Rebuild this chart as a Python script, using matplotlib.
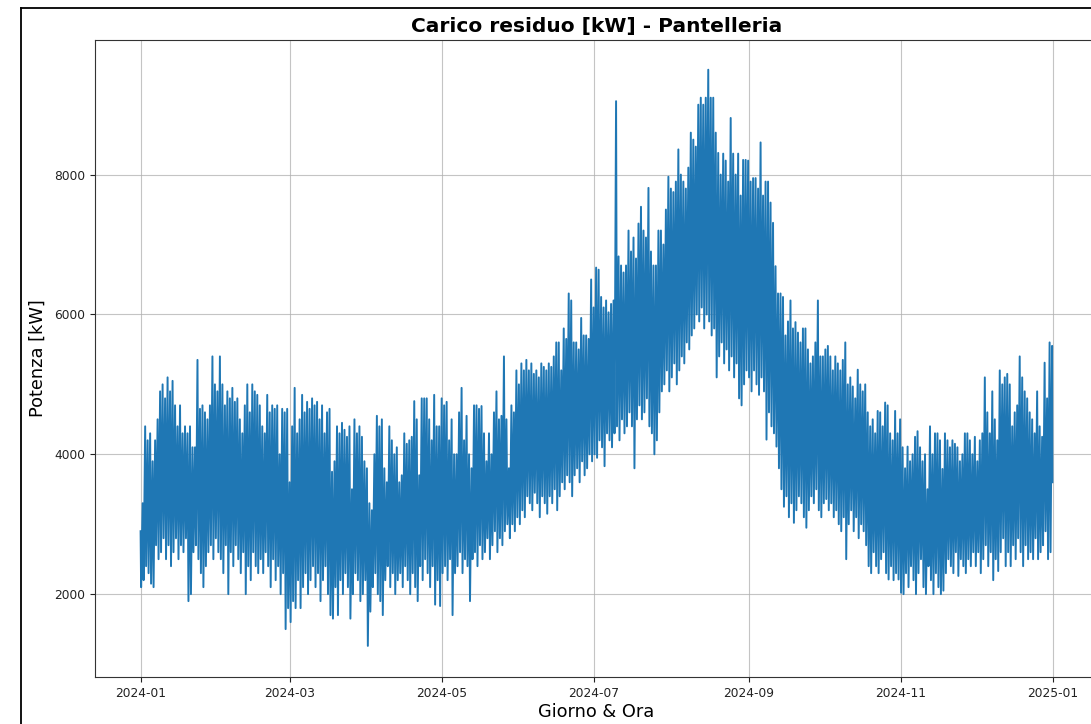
import numpy as np
import pandas as pd
import matplotlib
matplotlib.use("Agg")
import matplotlib.pyplot as plt
import matplotlib.dates as mdates
from matplotlib.lines import Line2D

# daily peak / trough of the residual load [kW] (one line per month)
daily_high = [
    3300, 4400, 4200, 4300, 3900, 4200, 4500, 4900, 5000, 4800, 5100, 4900, 5050, 4700, 4400, 4700, 4300, 4400, 4300, 4400, 4100, 4100, 5350, 4650, 4700, 4600, 4500, 4700, 5400, 5000, 4900,
    5400, 5000, 4700, 4900, 4800, 4950, 4750, 4800, 4500, 4300, 4700, 5000, 4600, 5000, 4900, 4850, 4700, 4400, 4300, 4850, 4600, 4700, 4650, 4700, 4000, 4650, 4600, 4650, 3600,
    4400, 4950, 4300, 4500, 4850, 4600, 4750, 4650, 4800, 4700, 4750, 4500, 4700, 4300, 4600, 4650, 3750, 3900, 4400, 4300, 4450, 4350, 4250, 4400, 3500, 4500, 4300, 4400, 4250, 3900, 3800,
    3300, 3200, 4000, 4550, 4400, 4500, 3800, 3600, 4400, 4200, 4000, 4100, 3600, 3700, 4300, 4150, 4200, 4250, 4760, 4500, 3700, 4800, 4800, 4800, 4500, 4200, 4850, 4400, 4400, 4800,
    4700, 4750, 4200, 4500, 4000, 4000, 4600, 4950, 4200, 4550, 4000, 3800, 4700, 4700, 4650, 4690, 4300, 3900, 4300, 4000, 4600, 4900, 4500, 4550, 5400, 4500, 3800, 4700, 4600, 5200, 5000,
    5300, 5200, 5350, 5200, 5300, 5150, 5200, 5100, 5300, 5250, 5200, 5300, 5250, 5400, 5600, 5600, 5200, 5800, 5650, 6300, 6200, 5600, 5600, 5500, 5950, 5700, 5700, 5650, 6500, 6100,
    6670, 6640, 6250, 6100, 6200, 6030, 6150, 6200, 9050, 6830, 6700, 6600, 6700, 7200, 6900, 7100, 6800, 7300, 7540, 7200, 7100, 7810, 6900, 6700, 6700, 7200, 7200, 7000, 7500, 7970, 7800,
    7750, 7900, 8360, 8000, 7900, 7800, 8100, 8600, 8500, 8400, 9000, 9100, 9000, 9100, 9500, 9100, 9100, 8600, 8310, 8000, 8300, 8200, 7900, 8810, 8300, 8000, 8300, 7700, 8210, 8210, 8200,
    7900, 7950, 7950, 7800, 8460, 7700, 7900, 7900, 7600, 7310, 6690, 6300, 6300, 6250, 5700, 5900, 6200, 5800, 5890, 5740, 5600, 5800, 5800, 5500, 5300, 5400, 5600, 6200, 5400, 5400,
    5500, 5550, 5400, 5200, 5400, 5300, 5200, 5350, 5600, 5000, 5100, 4970, 4800, 5210, 5000, 4900, 5000, 4600, 4400, 4500, 4300, 4620, 4600, 4400, 4740, 4700, 4300, 4200, 4620, 4300, 4500,
    4100, 3800, 4110, 3900, 4000, 4250, 4330, 4100, 3900, 4000, 3500, 4400, 4000, 4300, 4300, 4200, 3790, 4300, 4200, 4100, 4200, 4150, 4100, 3900, 4000, 4300, 4300, 4200, 4000, 4250,
    3900, 4200, 4300, 5100, 4600, 4300, 4900, 4500, 4200, 5200, 5000, 5100, 5150, 5000, 4400, 4600, 4700, 5400, 5100, 4900, 4800, 4600, 4500, 4300, 4900, 4400, 4250, 5310, 4800, 5600, 5550,
]
daily_low = [
    2100, 2200, 2400, 2300, 2150, 2100, 2700, 2500, 2600, 2800, 2500, 2700, 2400, 2600, 2800, 2500, 2700, 2600, 2800, 1900, 2000, 2600, 2700, 2500, 2300, 2100, 2400, 2600, 2700, 2500, 2800,
    2600, 2500, 2300, 2700, 2000, 2600, 2400, 2700, 2500, 2300, 2600, 2000, 2400, 2200, 2600, 2400, 2300, 2500, 2300, 2600, 2400, 2100, 2500, 2200, 2400, 2000, 2300, 1500, 1800,
    1600, 1900, 1800, 2200, 1800, 2100, 2300, 2000, 2200, 2400, 2100, 2300, 1900, 2200, 2400, 2000, 1700, 1650, 2100, 1700, 2200, 2000, 2300, 2100, 1650, 2000, 2300, 2200, 1900, 2000, 2200,
    1260, 1750, 2100, 2300, 2000, 1900, 1700, 2200, 2400, 2100, 2300, 2000, 2200, 2300, 2100, 2400, 2200, 2000, 2300, 2100, 1900, 2400, 2200, 2500, 2300, 2100, 2400, 1850, 2200, 1830,
    2300, 2400, 2200, 2500, 1700, 2300, 2400, 2600, 2300, 2500, 2400, 1900, 2500, 2600, 2400, 2700, 2500, 2600, 2800, 2500, 2700, 2900, 2600, 2800, 2700, 2900, 3000, 2800, 3000, 2900, 3100,
    3000, 3200, 3100, 3400, 3300, 3200, 3450, 3300, 3100, 3400, 3300, 3150, 3400, 3300, 3500, 3200, 3400, 3600, 3500, 3700, 3600, 3400, 3700, 3800, 3600, 3900, 3700, 3800, 4000, 3900,
    4000, 3950, 4200, 4100, 3830, 4300, 4200, 4100, 4300, 4400, 4200, 4500, 4300, 4400, 4600, 4400, 3800, 4500, 4700, 4500, 4600, 4800, 4400, 4300, 4000, 4200, 4600, 4900, 5000, 5200, 4900,
    5100, 5300, 5000, 5200, 5400, 5300, 5600, 5500, 5700, 5800, 6000, 5900, 6100, 5800, 6000, 5900, 5700, 5800, 5100, 5400, 5600, 5300, 5500, 5200, 5400, 5100, 5300, 4800, 4700, 5000, 5200,
    5100, 4900, 5200, 5000, 4850, 5100, 4900, 4210, 4600, 4400, 4300, 4110, 3800, 3500, 3250, 3400, 3100, 3300, 3020, 3200, 3400, 3300, 3100, 2950, 3200, 3400, 3300, 3500, 3200, 3100,
    3300, 3360, 3200, 3300, 3100, 3200, 3000, 2900, 3100, 2500, 3000, 3200, 2900, 3100, 2800, 3000, 2900, 2700, 2400, 2300, 2600, 2400, 2300, 2500, 2600, 2300, 2210, 2400, 2200, 2300, 2210,
    2020, 2000, 2300, 2100, 2400, 2200, 2000, 2300, 2500, 2100, 2000, 2400, 2200, 2000, 2300, 2100, 2000, 2050, 2300, 2500, 2400, 2300, 2600, 2260, 2500, 2400, 2300, 2500, 2400, 2600,
    2400, 2600, 2300, 2500, 2700, 2400, 2600, 2200, 2500, 2330, 2600, 2800, 2400, 2600, 2400, 2700, 2500, 2800, 2600, 2400, 2700, 2500, 2600, 2500, 2800, 2500, 2600, 2700, 2900, 2500, 2600,
]
first_value = 2900   # 2024-01-01 00:00
last_value = 3600    # 2024-12-31 23:00

days = pd.date_range("2024-01-01", periods=len(daily_high), freq="D")
t_low = days + pd.Timedelta(hours=5)
t_high = days + pd.Timedelta(hours=20)

times = [pd.Timestamp("2024-01-01 00:00")]
values = [first_value]
for tl, th, lo, hi in zip(t_low, t_high, daily_low, daily_high):
    times += [tl, th]
    values += [lo, hi]
times.append(pd.Timestamp("2024-12-31 23:00"))
values.append(last_value)

fig = plt.figure(figsize=(10.91, 7.24), dpi=100)
ax = fig.add_axes([95 / 1091, 1 - 677 / 724, (1098 - 95) / 1091, (677 - 40) / 724])

ax.plot(times, values, color="#1f77b4", linewidth=1.4)

ax.set_title("Carico residuo [kW] - Pantelleria", fontsize=14.5, fontweight="bold")
ax.set_xlabel("Giorno & Ora", fontsize=12.8, labelpad=2.5)
ax.set_ylabel("Potenza [kW]", fontsize=12.8, labelpad=5)
ax.xaxis.set_major_locator(mdates.MonthLocator(bymonth=[1, 3, 5, 7, 9, 11]))
ax.xaxis.set_major_formatter(mdates.DateFormatter("%Y-%m"))
ax.tick_params(labelsize=8.8, colors="#222222")
ax.set_ylim(815, 9925)
ax.grid(True, color="#b0b0b0", alpha=0.75)
for s in ax.spines.values():
    s.set_color("#333333")

# frame of the screenshot
fig.add_artist(Line2D([21 / 1091, 21 / 1091], [0, 1 - 8 / 724], color="black", lw=1.3, transform=fig.transFigure))
fig.add_artist(Line2D([21 / 1091, 1], [1 - 8 / 724, 1 - 8 / 724], color="black", lw=1.3, transform=fig.transFigure))

fig.savefig("out.png", dpi=100)
